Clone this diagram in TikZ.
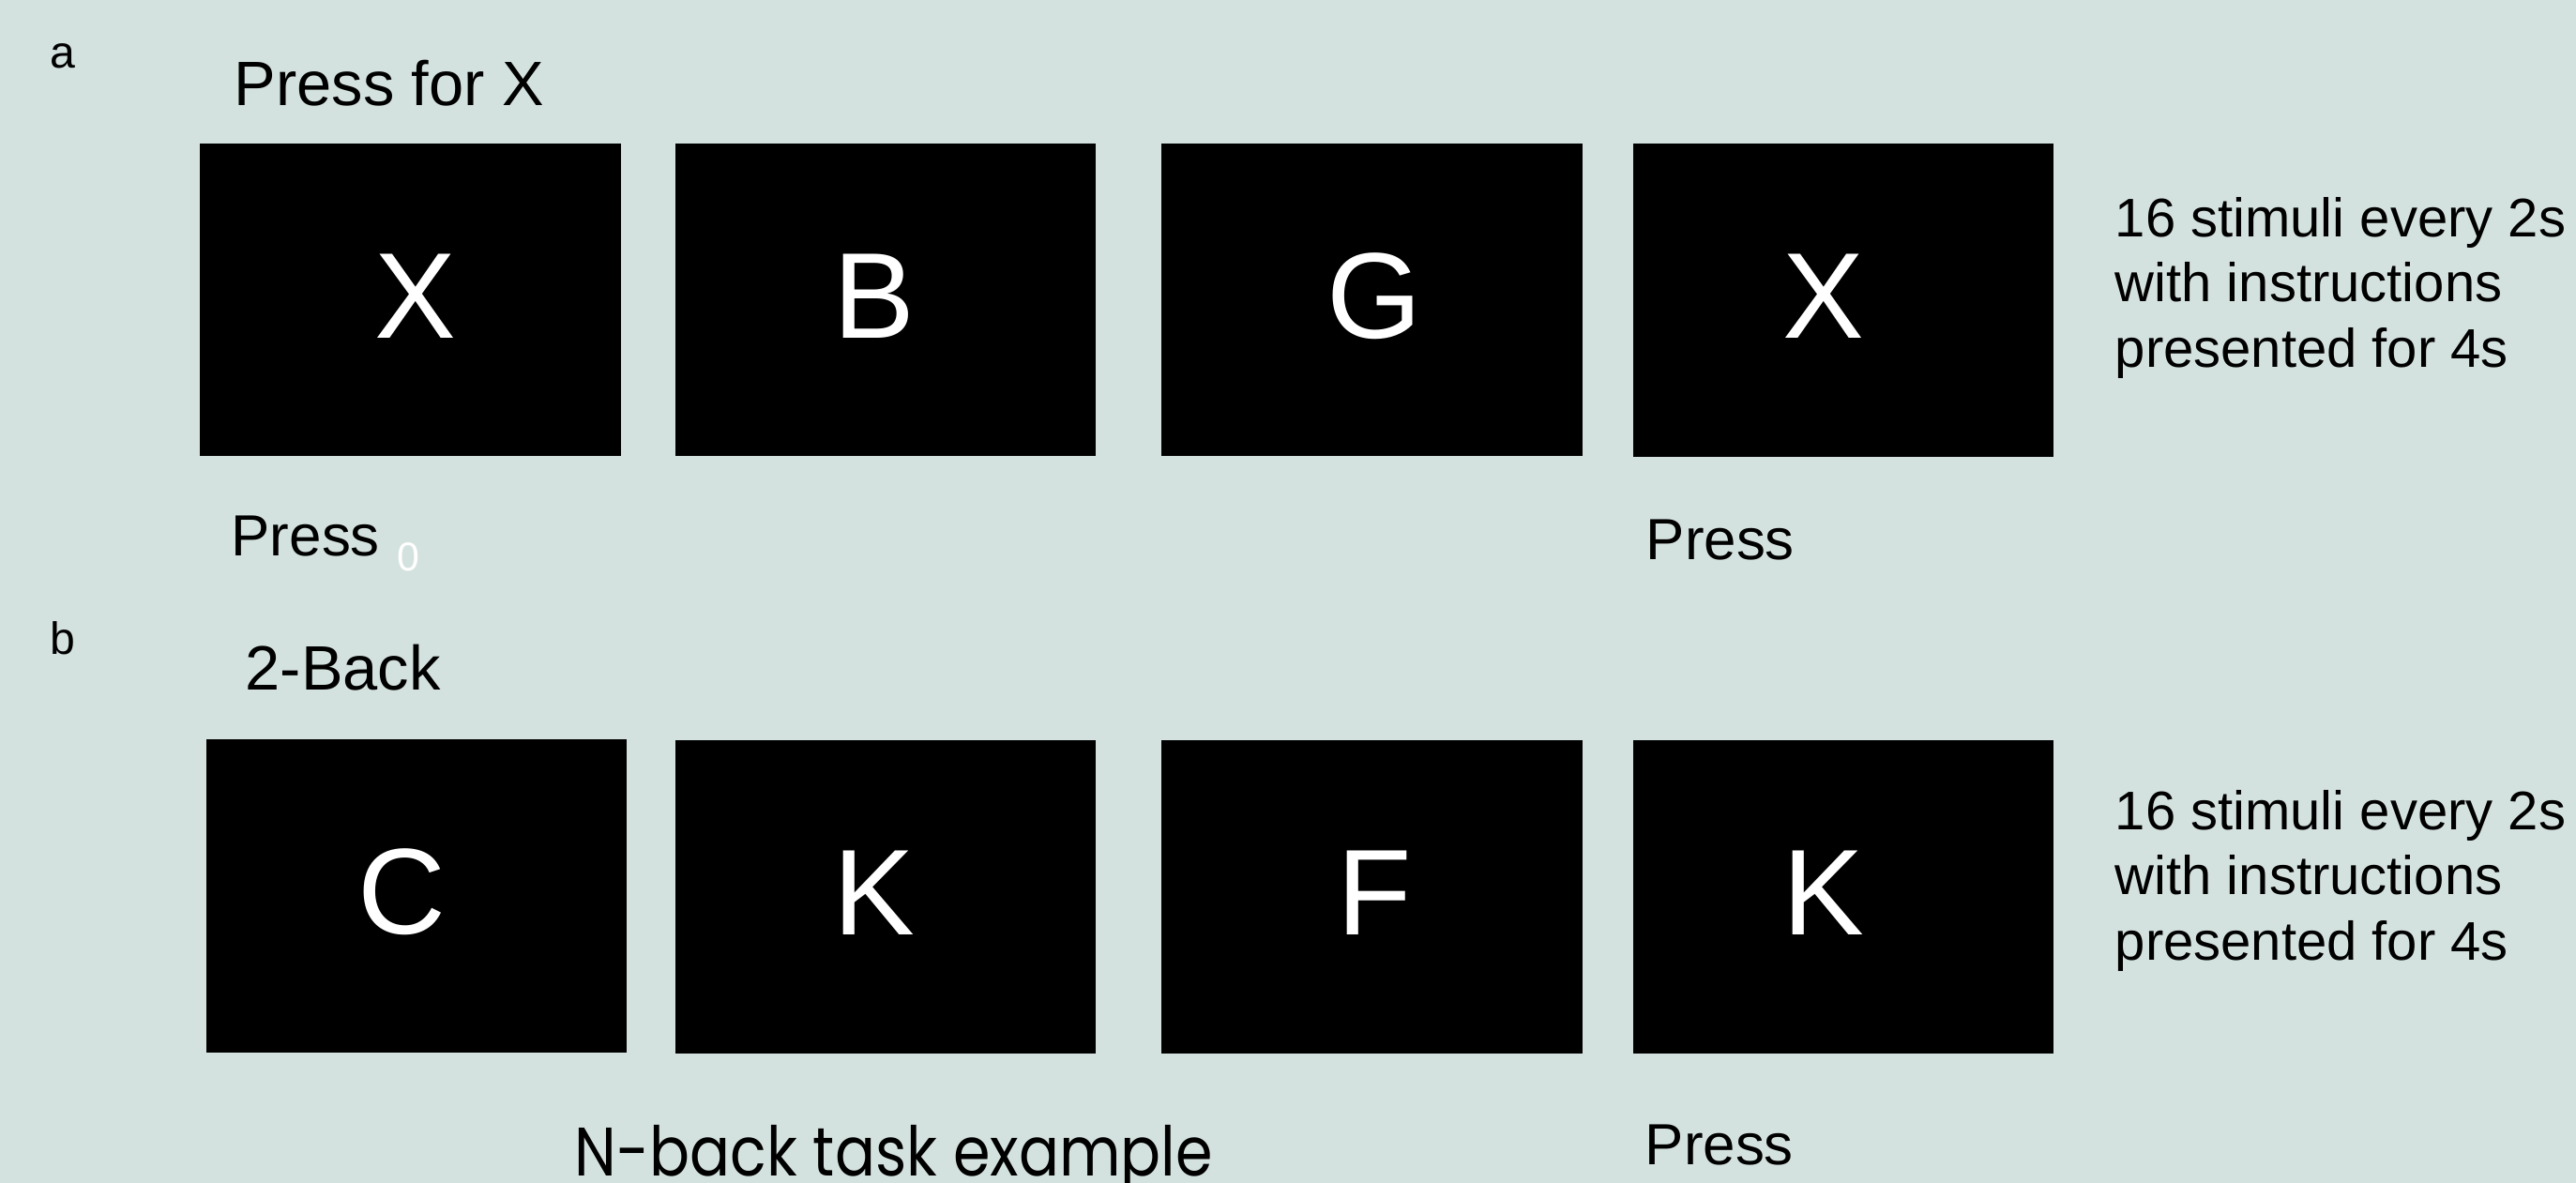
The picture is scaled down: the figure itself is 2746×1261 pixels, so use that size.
\documentclass[tikz,border=0pt]{standalone}
\usepackage{fontspec}
\setmainfont{Liberation Sans}
\newfontfamily\geofont{Poppins}
\definecolor{bg}{RGB}{212,226,223}
\begin{document}
\begin{tikzpicture}[x=0.01cm,y=-0.01cm,
  screen/.style={fill=black, draw=none, inner sep=0pt, minimum width=4.48cm, minimum height=3.33cm},
  letter/.style={inner sep=0pt, text=white, font=\fontsize{37}{44}\selectfont},
  lbl/.style={anchor=base west, inner sep=0pt, text=black},
  panel/.style={lbl, font=\fontsize{13.7}{16}\selectfont},
  title/.style={lbl, font=\fontsize{19}{23}\selectfont},
  press/.style={lbl, font=\fontsize{17.6}{21}\selectfont},
  info/.style={lbl, font=\fontsize{16.5}{20}\selectfont},
]
\fill[bg] (0,0) rectangle (2746,1261);
\useasboundingbox (0,0) rectangle (2746,1261);

% panel a
\node[panel] (la) at (53,73) {a};
\node[title] (ta) at (249,113) {Press for X};
\node[screen] (a1) at (437.5,319.5) {};
\node[screen] (a2) at (944,319.5) {};
\node[screen] (a3) at (1462.5,319.5) {};
\node[screen] (a4) at (1965,320) {};
\node[letter] (a1t) at ([shift={(5,-4)}]a1.center) {X};
\node[letter] (a2t) at ([shift={(-12,-4)}]a2.center) {B};
\node[letter] (a3t) at ([shift={(3,-4)}]a3.center) {G};
\node[letter] (a4t) at ([shift={(-21,-4)}]a4.center) {X};
\node[press] (pa1) at (246,592) {Press};
\node[lbl, text=white, font=\fontsize{12.2}{14}\selectfont] (za) at (423,608) {0};
\node[press] (pa4) at (1754,596) {Press};
\node[info] (ia1) at (2254,253) {16 stimuli every 2s};
\node[info] (ia2) at (2254,322) {with instructions};
\node[info] (ia3) at (2254,392) {presented for 4s};

% panel b
\node[panel] (lb) at (53,697) {b};
\node[title] (tb) at (261,735) {2-Back};
\node[screen] (b1) at (444,955) {};
\node[screen] (b2) at (944,956) {};
\node[screen] (b3) at (1462.5,956) {};
\node[screen] (b4) at (1965,956) {};
\node[letter] (b1t) at ([shift={(-16,-4)}]b1.center) {C};
\node[letter] (b2t) at ([shift={(-12,-4)}]b2.center) {K};
\node[letter] (b3t) at ([shift={(3,-4)}]b3.center) {F};
\node[letter] (b4t) at ([shift={(-21,-4)}]b4.center) {K};
\node[press] (pb4) at (1753,1241) {Press};
\node[info] (ib1) at (2254,884) {16 stimuli every 2s};
\node[info] (ib2) at (2254,953) {with instructions};
\node[info] (ib3) at (2254,1023) {presented for 4s};

\node[lbl, font=\geofont\fontsize{20.8}{25}\selectfont] (cap) at (612,1253) {\scalebox{0.87}[1]{N-back task example}};
\end{tikzpicture}
\end{document}
